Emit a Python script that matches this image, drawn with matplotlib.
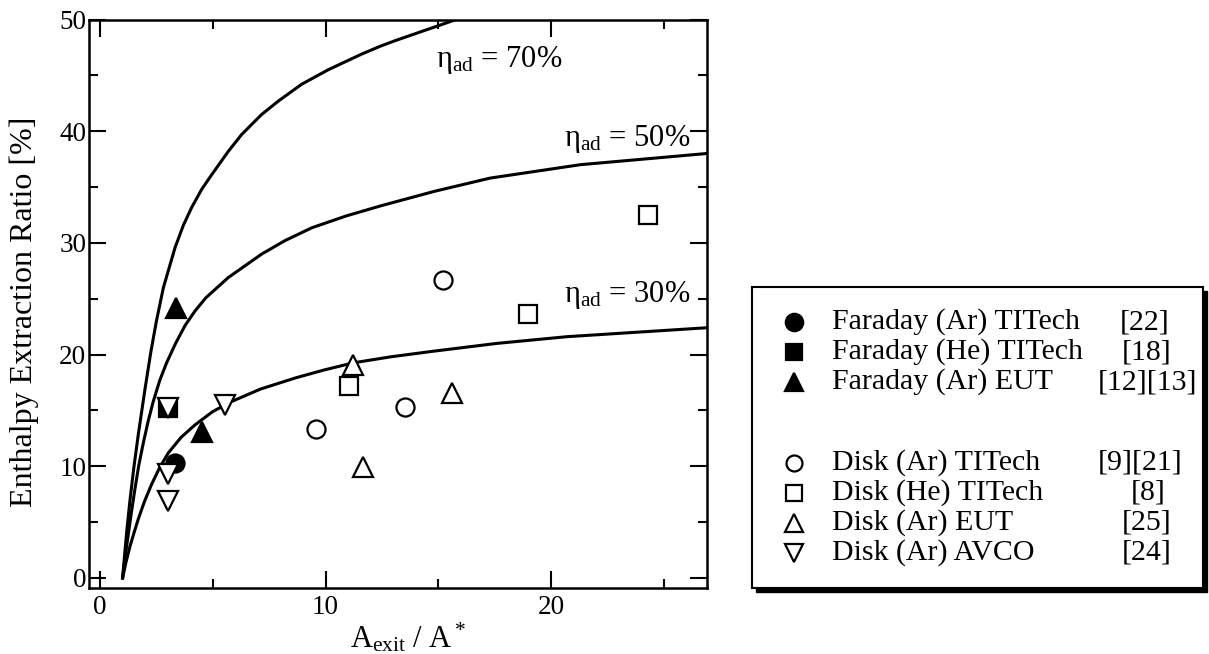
import matplotlib
matplotlib.use("Agg")
import matplotlib.pyplot as plt
from matplotlib.patches import Rectangle

plt.rcParams['font.family'] = ['Liberation Serif', 'DejaVu Serif']
plt.rcParams['mathtext.fontset'] = 'custom'
plt.rcParams['mathtext.rm'] = 'Liberation Serif'
plt.rcParams['mathtext.it'] = 'Liberation Serif:italic'
plt.rcParams['mathtext.bf'] = 'Liberation Serif:bold'

# efficiency curves
eta_labels = ["70%", "50%", "30%"]
eta70_x = [1.0, 1.1, 1.2, 1.33, 1.5, 1.7, 2.0, 2.25, 2.5, 2.81, 3.33, 3.70, 4.07, 4.51, 4.95,
           5.69, 6.28, 7.17, 7.91, 8.94, 10.12, 11.6, 12.42, 13.08, 15.8]
eta70_y = [0.0, 2.3, 4.5, 7.0, 9.9, 12.9, 17.0, 20.2, 23.0, 26.0, 29.6, 31.6, 33.2, 34.8, 36.1,
           38.2, 39.7, 41.5, 42.7, 44.2, 45.5, 46.9, 47.6, 48.1, 50.0]
eta50_x = [1.0, 1.12, 1.26, 1.4, 1.55, 1.72, 1.92, 2.13, 2.36, 2.65, 2.96, 3.35, 3.77, 4.21, 4.7,
           5.69, 7.17, 8.2, 9.39, 10.9, 12.42, 14.8, 17.3, 21.3, 26.9]
eta50_y = [0.0, 2.0, 4.0, 6.0, 8.0, 10.1, 12.1, 14.0, 15.8, 17.7, 19.3, 21.0, 22.6, 23.9, 25.1,
           26.9, 29.0, 30.2, 31.35, 32.4, 33.3, 34.6, 35.8, 37.0, 38.0]
eta30_x = [1.0, 1.15, 1.33, 1.5, 1.70, 1.98, 2.29, 2.65, 3.03, 3.6, 4.21, 5.0, 5.84, 7.1, 8.65,
           9.9, 11.23, 12.9, 14.78, 17.6, 20.7, 23.8, 26.9]
eta30_y = [0.0, 1.4, 2.85, 4.0, 5.3, 6.9, 8.4, 9.9, 11.2, 12.6, 13.7, 14.9, 15.8, 16.9, 17.9,
           18.6, 19.26, 19.8, 20.3, 21.0, 21.6, 22.0, 22.4]

# experimental points
far_ar_titech_x = [3.33]
far_ar_titech_y = [10.3]
far_he_titech_x = [3.03]
far_he_titech_y = [15.2]
far_ar_eut_x = [3.36, 4.51]
far_ar_eut_y = [24.2, 13.1]
disk_ar_titech_x = [9.6, 13.53, 15.19]
disk_ar_titech_y = [13.3, 15.3, 26.7]
disk_he_titech_x = [11.06, 18.97, 24.3]
disk_he_titech_y = [17.2, 23.6, 32.5]
disk_ar_eut_x = [11.23, 11.68, 15.63]
disk_ar_eut_y = [19.1, 9.9, 16.6]
disk_ar_avco_x = [3.03, 3.03, 3.03, 5.54]
disk_ar_avco_y = [15.2, 9.3, 6.9, 15.5]

legend_names = ["Faraday (Ar) TITech", "Faraday (He) TITech", "Faraday (Ar) EUT",
                "Disk (Ar) TITech", "Disk (He) TITech", "Disk (Ar) EUT", "Disk (Ar) AVCO"]
legend_refs = ["[22]", "[18]", "[12][13]", "[9][21]", "[8]", "[25]", "[24]"]

W, H = 1209, 654
fig = plt.figure(figsize=(W / 100, H / 100), dpi=100)
ax = fig.add_axes([89 / W, 1 - 588 / H, (707 - 89) / W, (588 - 19.5) / H])

for cx, cy in [(eta70_x, eta70_y), (eta50_x, eta50_y), (eta30_x, eta30_y)]:
    ax.plot(cx, cy, color='black', lw=2.2, solid_joinstyle='round', zorder=2)

ax.text(14.9, 46.4, r"$\mathrm{\eta_{ad}}$ = " + eta_labels[0], fontsize=22, ha='left', va='center')
ax.text(26.2, 39.3, r"$\mathrm{\eta_{ad}}$ = " + eta_labels[1], fontsize=22, ha='right', va='center')
ax.text(26.2, 25.3, r"$\mathrm{\eta_{ad}}$ = " + eta_labels[2], fontsize=22, ha='right', va='center')

# marker styles for the seven series
styles = [('o', 'black', 13), ('s', 'black', 12.5), ('^', 'black', 14),
          ('o', 'white', 13), ('s', 'white', 12.5), ('^', 'white', 14), ('v', 'white', 14)]
series = [(far_ar_titech_x, far_ar_titech_y), (far_he_titech_x, far_he_titech_y),
          (far_ar_eut_x, far_ar_eut_y), (disk_ar_titech_x, disk_ar_titech_y),
          (disk_he_titech_x, disk_he_titech_y), (disk_ar_eut_x, disk_ar_eut_y),
          (disk_ar_avco_x, disk_ar_avco_y)]
for (sx, sy), (m, fc, ms) in zip(series, styles):
    ax.plot(sx, sy, ls='none', marker=m, ms=ms, mfc=fc, mec='black', mew=1.6, zorder=3)

ax.set_xlim(-0.49, 26.92)
ax.set_ylim(-0.9, 50)
ax.set_xticks([0, 10, 20])
ax.set_xticks([5, 15, 25], minor=True)
ax.set_yticks([0, 10, 20, 30, 40, 50])
ax.set_yticks([5, 15, 25, 35, 45], minor=True)
ax.tick_params(which='both', direction='in', top=True, right=True, width=1.5, labelsize=19.5)
ax.tick_params(which='major', length=12)
ax.tick_params(which='minor', length=6.5)
ax.tick_params(axis='x', pad=5)
ax.tick_params(axis='y', pad=2)
for sp in ax.spines.values():
    sp.set_linewidth(1.8)

ax.set_xlabel(r"A$_{\mathrm{exit}}$ / A$^*$", fontsize=22)
ax.xaxis.label.set_va('baseline')
ax.xaxis.set_label_coords(0.516, -(648 - 588) / (588 - 19.5))
ax.set_ylabel("Enthalpy Extraction Ratio [%]", fontsize=23)
ax.yaxis.set_label_coords(-0.081, 0.485)

# legend box with drop shadow
lx0, lx1, ly0, ly1 = 752, 1203, 287, 588
sh = 4
fig.patches.append(Rectangle(((lx0 + sh) / W, 1 - (ly1 + sh) / H), (lx1 - lx0) / W, (ly1 - ly0) / H,
                             transform=fig.transFigure, facecolor='black', edgecolor='black', zorder=-1))
lax = fig.add_axes([lx0 / W, 1 - ly1 / H, (lx1 - lx0) / W, (ly1 - ly0) / H])
lax.set_zorder(2)
lax.set_xlim(0, lx1 - lx0)
lax.set_ylim(ly1 - ly0, 0)
lax.set_xticks([])
lax.set_yticks([])
lax.set_facecolor('white')
for sp in lax.spines.values():
    sp.set_linewidth(1.5)

row_y = [35, 65, 95, 176, 206, 236, 266]
ref_x = [368, 370, 346, 346, 379, 370, 370]
leg_ms = [12.5, 12, 13, 11.5, 11.5, 12.5, 12.5]
for i, (name, ref) in enumerate(zip(legend_names, legend_refs)):
    m, fc, ms = styles[i]
    lax.plot([42], [row_y[i]], ls='none', marker=m, ms=leg_ms[i], mfc=fc, mec='black', mew=1.6)
    lax.text(80, row_y[i], name, fontsize=21.5, ha='left', va='center')
    lax.text(ref_x[i], row_y[i], ref, fontsize=21.5, ha='left', va='center')

fig.savefig("out.png", dpi=100)
